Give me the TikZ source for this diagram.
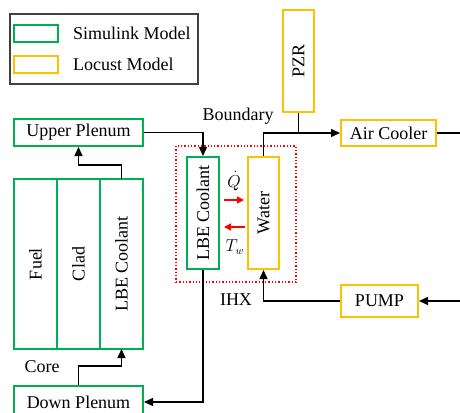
\documentclass[tikz,border=0pt]{standalone}
\usepackage{fontspec}
\setmainfont{Liberation Serif}
\usepackage{graphicx}
\usetikzlibrary{arrows.meta, positioning, calc}
\definecolor{simgreen}{RGB}{0,176,80}
\definecolor{locyellow}{RGB}{255,192,0}
\definecolor{legendgray}{RGB}{64,64,64}
\tikzset{
  gbox/.style={
    rectangle, draw=simgreen, line width=2pt,
    inner sep=0pt, align=center,
    font=\fontsize{18}{21}\selectfont
  },
  ybox/.style={
    rectangle, draw=locyellow, line width=2pt,
    inner sep=0pt, align=center,
    font=\fontsize{18}{21}\selectfont
  },
  colbox/.style={gbox, outer sep=0pt, minimum width=43pt, minimum height=170pt},
  lbl/.style={inner sep=0pt, font=\fontsize{18}{21}\selectfont},
  arr/.style={-{Triangle[length=9pt, width=8pt]}, line width=1.4pt, color=black},
  plain/.style={line width=1.4pt, color=black},
  rarr/.style={-{Triangle[length=7pt, width=7pt]}, line width=1.4pt, color=red},
}

\begin{document}
\begin{tikzpicture}[x=1pt, y=-1pt]
    \useasboundingbox (0,0) rectangle (460,412);

    % legend
    \node[draw=legendgray, line width=1.5pt, minimum width=188pt, minimum height=70pt, inner sep=0pt] (legend) at (104,49) {};
    \node[gbox, minimum width=44pt, minimum height=17pt] (lgreen)  at (36,33.5) {};
    \node[ybox, minimum width=44pt, minimum height=17pt] (lyellow) at (36,64.5) {};
    \node[lbl, anchor=west] (lsim) at (73,33) {Simulink Model};
    \node[lbl, anchor=west] (lloc) at (73,64) {Locust Model};

    % primary side
    \node[gbox, minimum width=129pt, minimum height=27pt] (up) at (78.5,132.5) {Upper Plenum};
    \node[colbox] (fuel) at (35.5,264) {\rotatebox{90}{Fuel}};
    \node[colbox, right=0pt of fuel] (clad) {\rotatebox{90}{Clad}};
    \node[colbox, right=0pt of clad] (cool) {\rotatebox{90}{LBE Coolant}};
    \node[gbox, minimum width=129pt, minimum height=32pt] (down) at (78.5,402) {Down Plenum};
    \node[lbl] (core) at (42,367) {Core};

    % IHX
    \node[draw=red, dotted, line width=1.3pt, minimum width=120pt, minimum height=136pt, inner sep=0pt] (ihx) at (236,214) {};
    \node[gbox, minimum width=32pt, minimum height=112pt] (lbe) at (203,213) {\rotatebox{90}{LBE Coolant}};
    \node[ybox, minimum width=31pt, minimum height=112pt] (water) at (263.5,213) {\rotatebox{90}{Water}};
    \node[lbl] (bnd) at (238,116) {Boundary};
    \node[lbl] (ihxl) at (236,300) {IHX};
    \node[inner sep=0pt, font=\fontsize{16}{18}\selectfont] (qdot) at (234,181) {$\dot{Q}$};
    \node[inner sep=0pt, font=\fontsize{16}{18}\selectfont] (tw) at (235,247) {$T_w$};

    % secondary side
    \node[ybox, minimum width=31pt, minimum height=102pt] (pzr) at (298.5,61) {\rotatebox{90}{PZR}};
    \node[ybox, minimum width=95pt, minimum height=26pt] (air) at (388.5,133) {Air Cooler};
    \node[ybox, minimum width=77pt, minimum height=32pt] (pump) at (379.5,301) {PUMP};
    \coordinate (airout) at (460,133);
    \coordinate (pumpin) at (460,301);

    \draw[arr] (up.east) -| (lbe.north);
    \draw[arr] (cool.north) -- ++(0,-14) -| (up.south);
    \draw[arr] (down.north) -- ++(0,-19) -| (cool.south);
    \draw[arr] (lbe.south) |- (down.east);
    \draw[arr] (water.north) |- (air.west);
    \draw[plain] (pzr.south) -- (pzr.south |- air.west);
    \draw[plain] (air.east) -- (airout);
    \draw[arr] (pumpin) -- (pump.east);
    \draw[arr] (pump.west) -| (water.south);

    \draw[rarr] ([shift={(4,-13)}]lbe.east) -- ([shift={(-3,-13)}]water.west);
    \draw[rarr] ([shift={(-2,14)}]water.west) -- ([shift={(4,14)}]lbe.east);
  \end{tikzpicture}
\end{document}
